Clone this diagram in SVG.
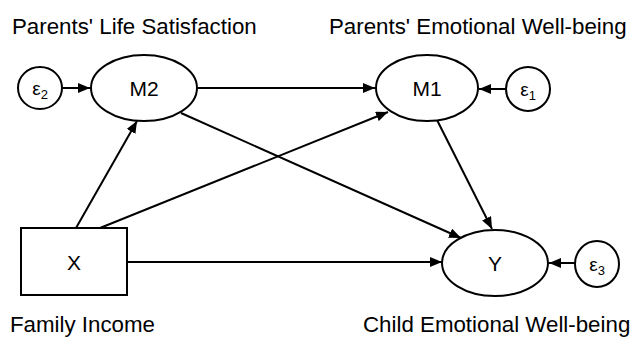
<svg xmlns="http://www.w3.org/2000/svg" width="630" height="338" viewBox="0 0 630 338">
<defs>
<marker id="ah" markerWidth="12" markerHeight="10" refX="12" refY="5" orient="auto" markerUnits="userSpaceOnUse">
<path d="M0,0 L12,5 L0,10 Z" fill="#000"/>
</marker>
</defs>
<style>
.n{fill:#fff;stroke:#000;stroke-width:2}
.t{font-family:"Liberation Sans",Arial,sans-serif;fill:#000}
.lab{font-size:22.3px}
.nl{font-size:21px;text-anchor:middle}
.e{font-size:19px;text-anchor:middle}
.c{stroke:#000;stroke-width:2;fill:none;marker-end:url(#ah)}
</style>
<rect width="630" height="338" fill="#fff"/>
<g id="labels">
<text class="t lab" x="12" y="34">Parents' Life Satisfaction</text>
<text class="t lab" x="329" y="34">Parents' Emotional Well-being</text>
<text class="t lab" x="10" y="332">Family Income</text>
<text class="t lab" x="363" y="332">Child Emotional Well-being</text>
</g>
<g id="connectors">
<line class="c" x1="62" y1="88" x2="90" y2="88"/>
<line class="c" x1="506" y1="89" x2="479" y2="89"/>
<line class="c" x1="575" y1="263" x2="549" y2="263"/>
<line class="c" x1="198" y1="88" x2="375" y2="88"/>
<line class="c" x1="181" y1="113" x2="461" y2="238"/>
<line class="c" x1="76" y1="228" x2="137" y2="121"/>
<line class="c" x1="100" y1="228" x2="388" y2="112"/>
<line class="c" x1="437" y1="120" x2="492" y2="229"/>
<line class="c" x1="127" y1="262" x2="442" y2="262"/>
</g>
<g id="e2">
<ellipse class="n" cx="40" cy="88" rx="22" ry="21"/>
<text class="t e" x="40" y="95">ε<tspan font-size="13" dy="4">2</tspan></text>
</g>
<g id="M2">
<ellipse class="n" cx="144" cy="88" rx="53" ry="33"/>
<text class="t nl" x="144" y="96">M2</text>
</g>
<g id="M1">
<ellipse class="n" cx="427" cy="88" rx="51" ry="33"/>
<text class="t nl" x="427" y="96">M1</text>
</g>
<g id="e1">
<ellipse class="n" cx="528" cy="89" rx="22" ry="22"/>
<text class="t e" x="528" y="96">ε<tspan font-size="13" dy="4">1</tspan></text>
</g>
<g id="X">
<rect class="n" x="21" y="228" width="106" height="67"/>
<text class="t nl" x="74" y="270">X</text>
</g>
<g id="Y">
<ellipse class="n" cx="495" cy="263" rx="53" ry="33"/>
<text class="t nl" x="495" y="271">Y</text>
</g>
<g id="e3">
<ellipse class="n" cx="597" cy="264" rx="22" ry="23"/>
<text class="t e" x="597" y="271">ε<tspan font-size="13" dy="4">3</tspan></text>
</g>
</svg>
